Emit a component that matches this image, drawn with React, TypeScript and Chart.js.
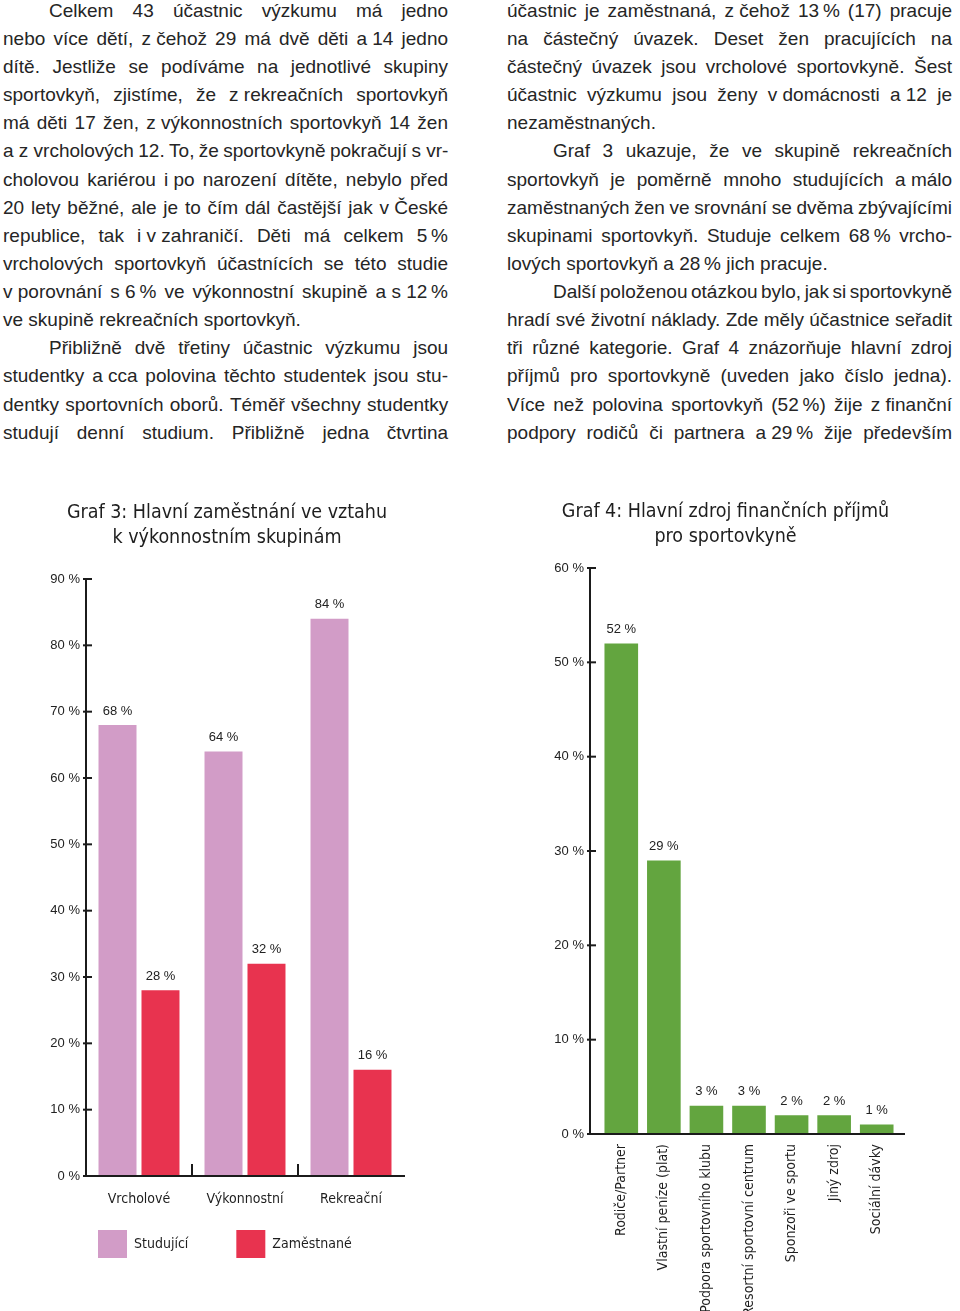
import React, { useEffect, useLayoutEffect, useRef } from "react";
import { Chart, registerables } from "chart.js";

Chart.register(...registerables);

// ---------- Data ----------
const employmentGroups = ["Vrcholové", "Výkonnostní", "Rekreační"];
const studyingValues = [68, 64, 84];
const employedValues = [28, 32, 16];
const employmentSeriesNames = ["Studující", "Zaměstnané"];
const employmentTitle = ["Graf 3: Hlavní zaměstnání ve vztahu", "k výkonnostním skupinám"];

const incomeSources = [
  "Rodiče/Partner",
  "Vlastní peníze (plat)",
  "Podpora sportovního klubu",
  "Resortní sportovní centrum",
  "Sponzoři ve sportu",
  "Jiný zdroj",
  "Sociální dávky",
];
const incomeValues = [52, 29, 3, 3, 2, 2, 1];
const incomeTitle = ["Graf 4: Hlavní zdroj finančních příjmů", "pro sportovkyně"];

type Line = { text: string; indent?: boolean; last?: boolean };

const leftColumnLines: Line[] = [
  { text: "Celkem 43 účastnic výzkumu má jedno", indent: true },
  { text: "nebo více dětí, z\u00a0čehož 29 má dvě děti a\u00a014 jedno" },
  { text: "dítě. Jestliže se podíváme na jednotlivé skupiny" },
  { text: "sportovkyň, zjistíme, že z\u00a0rekreačních sportovkyň" },
  { text: "má děti 17 žen, z\u00a0výkonnostních sportovkyň 14 žen" },
  { text: "a\u00a0z\u00a0vrcholových 12. To, že sportovkyně pokračují s\u00a0vr-" },
  { text: "cholovou kariérou i\u00a0po narození dítěte, nebylo před" },
  { text: "20 lety běžné, ale je to čím dál častější jak v\u00a0České" },
  { text: "republice, tak i\u00a0v\u00a0zahraničí. Děti má celkem 5\u2009%" },
  { text: "vrcholových sportovkyň účastnících se této studie" },
  { text: "v\u00a0porovnání s\u00a06\u2009% ve výkonnostní skupině a\u00a0s\u00a012\u2009%" },
  { text: "ve skupině rekreačních sportovkyň.", last: true },
  { text: "Přibližně dvě třetiny účastnic výzkumu jsou", indent: true },
  { text: "studentky a\u00a0cca polovina těchto studentek jsou stu-" },
  { text: "dentky sportovních oborů. Téměř všechny studentky" },
  { text: "studují denní studium. Přibližně jedna čtvrtina" },
];

const rightColumnLines: Line[] = [
  { text: "účastnic je zaměstnaná, z\u00a0čehož 13\u2009% (17) pracuje" },
  { text: "na částečný úvazek. Deset žen pracujících na" },
  { text: "částečný úvazek jsou vrcholové sportovkyně. Šest" },
  { text: "účastnic výzkumu jsou ženy v\u00a0domácnosti a\u00a012 je" },
  { text: "nezaměstnaných.", last: true },
  { text: "Graf 3 ukazuje, že ve skupině rekreačních", indent: true },
  { text: "sportovkyň je poměrně mnoho studujících a\u00a0málo" },
  { text: "zaměstnaných žen ve srovnání se dvěma zbývajícími" },
  { text: "skupinami sportovkyň. Studuje celkem 68\u2009% vrcho-" },
  { text: "lových sportovkyň a\u00a028\u2009% jich pracuje.", last: true },
  { text: "Další položenou otázkou bylo, jak si sportovkyně", indent: true },
  { text: "hradí své životní náklady. Zde měly účastnice seřadit" },
  { text: "tři různé kategorie. Graf 4 znázorňuje hlavní zdroj" },
  { text: "příjmů pro sportovkyně (uveden jako číslo jedna)." },
  { text: "Více než polovina sportovkyň (52\u2009%) žije z\u00a0finanční" },
  { text: "podpory rodičů či partnera a\u00a029\u2009% žije především" },
];

// ---------- Styles ----------
const TEXT_COLOR = "#252525";
const PINK = "#d29cc7";
const RED = "#e8334f";
const GREEN = "#63a53f";
const NARROW = "'Liberation Sans Narrow', 'DejaVu Sans Condensed', 'Arial Narrow', sans-serif";
const REGULAR = "'Liberation Sans', Arial, sans-serif";
const COL_WIDTH = 445;
const INDENT = 46;
const LINE_H = 28.13;
const TEXT_TOP = -3.2;
const TITLE_FONT = { family: NARROW, size: 19.5, weight: "normal", lineHeight: "25px" };
const LABEL_FONT = { family: NARROW, size: 14 };
const NUMBER_FONT = { family: REGULAR, size: 13 };

// ---------- Text ----------
function TextColumn({ lines, left }: { lines: Line[]; left: number }) {
  const refs = useRef<(HTMLSpanElement | null)[]>([]);
  useLayoutEffect(() => {
    const fit = () => {
      lines.forEach((ln, i) => {
        const el = refs.current[i];
        if (!el) return;
        el.style.wordSpacing = "0px";
        if (ln.last) return;
        const avail = COL_WIDTH - (ln.indent ? INDENT : 0);
        const gaps = ln.text.split(" ").length - 1;
        const w = el.getBoundingClientRect().width;
        if (gaps > 0) el.style.wordSpacing = `${(avail - w) / gaps}px`;
      });
    };
    fit();
    (document as any).fonts?.ready?.then(fit);
  }, [lines]);
  return (
    <div
      style={{
        position: "absolute",
        left,
        top: TEXT_TOP,
        width: COL_WIDTH,
        fontFamily: REGULAR,
        fontSize: 19,
        lineHeight: `${LINE_H}px`,
        color: TEXT_COLOR,
      }}
    >
      {lines.map((ln, i) => (
        <div key={i} style={{ whiteSpace: "pre", paddingLeft: ln.indent ? INDENT : 0, height: LINE_H }}>
          <span ref={(el) => { refs.current[i] = el; }} style={{ display: "inline-block" }}>
            {ln.text.split(" ").map((tok, j, arr) => (
              <React.Fragment key={j}>
                <span style={{ wordSpacing: 0 }}>{tok}</span>
                {j < arr.length - 1 ? " " : ""}
              </React.Fragment>
            ))}
          </span>
        </div>
      ))}
    </div>
  );
}

// ---------- Chart plugins ----------
function axisPlugin(shiftLeft: number, extendRight: number, separators: boolean) {
  return {
    id: "axisLines",
    afterDatasetsDraw(chart: any) {
      const { ctx, chartArea, scales } = chart;
      const { left, right, top, bottom } = chartArea;
      const ax = left - shiftLeft;
      ctx.save();
      ctx.strokeStyle = "#1b1b1b";
      ctx.lineWidth = 2;
      ctx.beginPath();
      ctx.moveTo(ax, top - 1);
      ctx.lineTo(ax, bottom);
      ctx.lineTo(right + extendRight, bottom);
      ctx.stroke();
      scales.y.ticks.forEach((t: any) => {
        const py = scales.y.getPixelForValue(t.value);
        ctx.beginPath();
        ctx.moveTo(ax - 3, py);
        ctx.lineTo(ax + 6, py);
        ctx.stroke();
      });
      if (separators) {
        const n = chart.data.labels.length;
        for (let i = 1; i < n; i++) {
          const bx = (scales.x.getPixelForValue(i - 1) + scales.x.getPixelForValue(i)) / 2;
          ctx.beginPath();
          ctx.moveTo(bx, bottom - 12);
          ctx.lineTo(bx, bottom);
          ctx.stroke();
        }
      }
      ctx.restore();
    },
  };
}

const valueLabelPlugin = {
  id: "valueLabels",
  afterDatasetsDraw(chart: any) {
    const { ctx } = chart;
    ctx.save();
    ctx.font = `${NUMBER_FONT.size}px ${REGULAR}`;
    ctx.fillStyle = "#222";
    ctx.textAlign = "center";
    ctx.textBaseline = "middle";
    chart.data.datasets.forEach((ds: any, di: number) => {
      const meta = chart.getDatasetMeta(di);
      meta.data.forEach((bar: any, i: number) => {
        ctx.fillText(`${ds.data[i]} %`, bar.x, bar.y - 14);
      });
    });
    ctx.restore();
  },
};

function ChartCanvas({ left, top, width, height, makeConfig }: any) {
  const ref = useRef<HTMLCanvasElement>(null);
  useEffect(() => {
    const chart = new Chart(ref.current as HTMLCanvasElement, makeConfig());
    return () => chart.destroy();
  }, []);
  return (
    <canvas
      ref={ref}
      width={width}
      height={height}
      style={{ position: "absolute", left, top, width, height, display: "block" }}
    />
  );
}

function employmentConfig(): any {
  return {
    type: "bar",
    data: {
      labels: employmentGroups,
      datasets: [
        {
          label: employmentSeriesNames[0],
          data: studyingValues,
          backgroundColor: PINK,
          borderColor: PINK,
          borderWidth: 0,
          categoryPercentage: 0.811,
          barPercentage: 0.884,
        },
        {
          label: employmentSeriesNames[1],
          data: employedValues,
          backgroundColor: RED,
          borderColor: RED,
          borderWidth: 0,
          categoryPercentage: 0.811,
          barPercentage: 0.884,
        },
      ],
    },
    options: {
      animation: false,
      responsive: false,
      devicePixelRatio: 1,
      layout: { padding: { left: 50, right: 47, top: 0, bottom: 0 } },
      plugins: {
        title: {
          display: true,
          text: employmentTitle,
          color: "#1e1e1e",
          font: TITLE_FONT,
          padding: { top: 10, bottom: 29 },
        },
        legend: {
          display: true,
          position: "bottom",
          align: "start",
          labels: {
            boxWidth: 29,
            boxHeight: 28,
            padding: 48,
            color: "#1e1e1e",
            font: LABEL_FONT,
          },
        },
        tooltip: { enabled: false },
      },
      scales: {
        x: {
          grid: { display: false, drawTicks: false },
          border: { display: false },
          ticks: {
            font: LABEL_FONT,
            color: "#1e1e1e",
            mirror: true,
            padding: -31.4,
            maxRotation: 0,
            autoSkip: false,
          },
          afterFit: (s: any) => { s.height = 6; },
        },
        y: {
          min: 0,
          max: 90,
          grid: { display: false, drawTicks: false },
          border: { display: false },
          ticks: {
            stepSize: 10,
            padding: 6,
            color: "#222",
            font: NUMBER_FONT,
            callback: (v: any) => `${v} %`,
          },
          afterFit: (s: any) => { s.width = 36; },
        },
      },
    },
    plugins: [axisPlugin(0, 1, true), valueLabelPlugin],
  };
}

function incomeConfig(): any {
  return {
    type: "bar",
    data: {
      labels: incomeSources,
      datasets: [
        {
          label: "Zdroj příjmů",
          data: incomeValues,
          backgroundColor: GREEN,
          borderWidth: 0,
          categoryPercentage: 1,
          barPercentage: 0.79,
        },
      ],
    },
    options: {
      animation: false,
      responsive: false,
      devicePixelRatio: 1,
      layout: { padding: { left: 53, right: 61, top: 0, bottom: 0 } },
      plugins: {
        title: {
          display: true,
          text: incomeTitle,
          color: "#1e1e1e",
          font: TITLE_FONT,
          padding: { top: 9.5, bottom: 18.5 },
        },
        legend: { display: false },
        tooltip: { enabled: false },
      },
      scales: {
        x: {
          grid: { display: false, drawTicks: false },
          border: { display: false },
          ticks: {
            font: LABEL_FONT,
            color: "#1e1e1e",
            padding: 10,
            minRotation: 90,
            maxRotation: 90,
            autoSkip: false,
          },
          afterFit: (s: any) => { s.height = 177; },
        },
        y: {
          min: 0,
          max: 60,
          grid: { display: false, drawTicks: false },
          border: { display: false },
          ticks: {
            stepSize: 10,
            padding: 16,
            color: "#222",
            font: NUMBER_FONT,
            callback: (v: any) => `${v} %`,
          },
          afterFit: (s: any) => { s.width = 47; },
        },
      },
    },
    plugins: [axisPlugin(10, 7, false), valueLabelPlugin],
  };
}

export default function App() {
  return (
    <div
      style={{
        position: "absolute",
        left: 0,
        top: 0,
        width: 960,
        height: 1311,
        background: "#fff",
        overflow: "hidden",
      }}
    >
      <TextColumn lines={leftColumnLines} left={3} />
      <TextColumn lines={rightColumnLines} left={507} />
      <ChartCanvas left={0} top={490} width={451} height={778} makeConfig={employmentConfig} />
      <ChartCanvas left={500} top={490} width={459} height={821} makeConfig={incomeConfig} />
    </div>
  );
}
